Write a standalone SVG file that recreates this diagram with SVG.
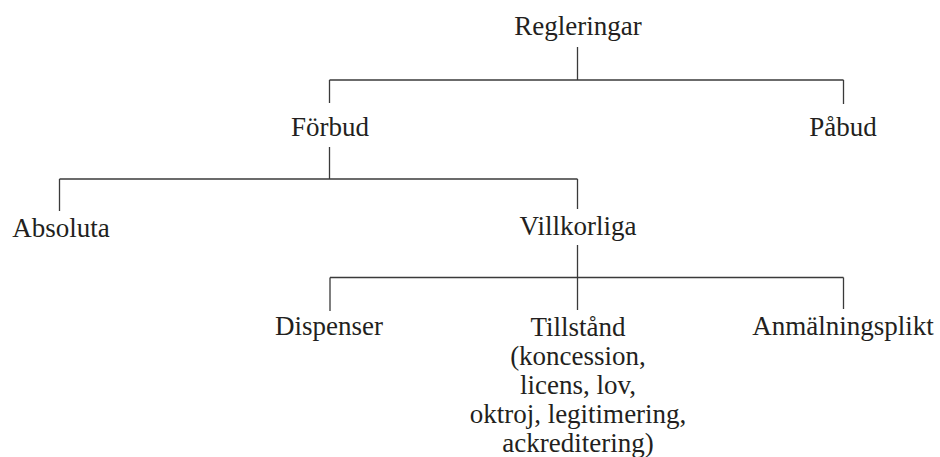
<svg xmlns="http://www.w3.org/2000/svg" width="940" height="457" viewBox="0 0 940 457">
<style>
text{font-family:"Liberation Serif","DejaVu Serif",serif;font-size:27px;fill:#231f20;text-anchor:middle}
.c line{stroke:#3a3a3a;stroke-width:1.3;fill:none}
</style>
<rect width="940" height="457" fill="#fff"/>
<g class="c" id="connectors">
<line x1="577.5" y1="47" x2="577.5" y2="80"/>
<line x1="329.5" y1="80" x2="843.5" y2="80"/>
<line x1="329.5" y1="80" x2="329.5" y2="103"/>
<line x1="843.5" y1="80" x2="843.5" y2="104"/>
<line x1="329.5" y1="147" x2="329.5" y2="179"/>
<line x1="59.5" y1="179" x2="577.5" y2="179"/>
<line x1="59.5" y1="179" x2="59.5" y2="211"/>
<line x1="577.5" y1="179" x2="577.5" y2="209"/>
<line x1="577.5" y1="245" x2="577.5" y2="310"/>
<line x1="330" y1="277.5" x2="843.5" y2="277.5"/>
<line x1="330" y1="277.5" x2="330" y2="311"/>
<line x1="843.5" y1="277.5" x2="843.5" y2="309"/>
</g>
<g id="regleringar"><text x="578" y="35">Regleringar</text></g>
<g id="forbud"><text x="330" y="136">Förbud</text></g>
<g id="pabud"><text x="843" y="136">Påbud</text></g>
<g id="absoluta"><text x="61" y="237">Absoluta</text></g>
<g id="villkorliga"><text x="578" y="235">Villkorliga</text></g>
<g id="dispenser"><text x="329" y="335">Dispenser</text></g>
<g id="tillstand"><text x="578" y="335.5">Tillstånd<tspan x="578" dy="29">(koncession,</tspan><tspan x="578" dy="29">licens, lov,</tspan><tspan x="578" dy="29">oktroj, legitimering,</tspan><tspan x="578" dy="29">ackreditering)</tspan></text></g>
<g id="anmalningsplikt"><text x="843" y="335">Anmälningsplikt</text></g>
</svg>
